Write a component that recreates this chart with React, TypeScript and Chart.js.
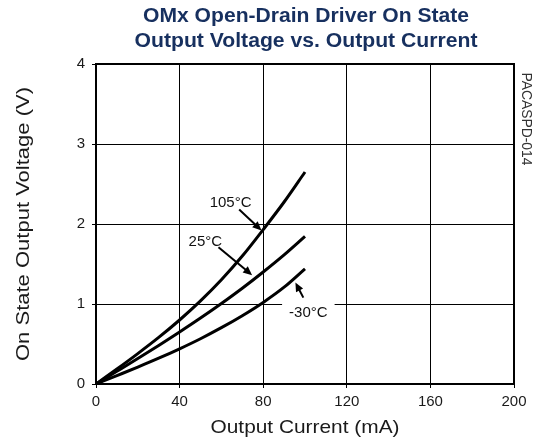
import React, { useEffect, useRef } from "react";
import { Chart, registerables } from "chart.js";

Chart.register(...registerables);

// ---- Data ----
const currentMA = [0, 10, 20, 30, 40, 50, 60, 70, 80, 90, 100];
const v105C = [0, 0.187, 0.38, 0.582, 0.8, 1.039, 1.303, 1.599, 1.93, 2.275, 2.65];
const v25C = [0, 0.159, 0.319, 0.482, 0.65, 0.824, 1.006, 1.197, 1.4, 1.614, 1.845];
const vMinus30C = [0, 0.105, 0.211, 0.322, 0.44, 0.566, 0.704, 0.854, 1.02, 1.21, 1.44];

const xTicks = [0, 40, 80, 120, 160, 200];
const yTicks = [0, 1, 2, 3, 4];

const titleLines = ["OMx Open-Drain Driver On State", "Output Voltage vs. Output Current"];
const xAxisTitle = "Output Current (mA)";
const yAxisTitle = "On State Output Voltage (V)";
const sideNote = "PACASPD-014";

// annotation labels (data coordinates)
const annoText = ["105°C", "25°C", "-30°C"];
const annoTextX = [64.4, 52.3, 101.6];
const annoTextY = [2.26, 1.78, 0.89];
const annoFromX = [68.5, 58.6, 99.2];
const annoFromY = [2.18, 1.71, 1.08];
const annoToX = [79.2, 74.7, 95.4];
const annoToY = [1.92, 1.36, 1.27];

const FONT = '"Liberation Sans", Arial, Helvetica, sans-serif';

function toPoints(ys: number[]) {
  return currentMA.map((x, i) => ({ x, y: ys[i] }));
}

function scaledText(
  ctx: CanvasRenderingContext2D,
  text: string,
  x: number,
  y: number,
  font: string,
  target: number | null,
  rot: number,
  color: string
) {
  ctx.save();
  ctx.translate(x, y);
  ctx.rotate(rot);
  ctx.font = font;
  const w = ctx.measureText(text).width;
  const s = target ? target / w : 1;
  ctx.scale(s, 1);
  ctx.fillStyle = color;
  ctx.textAlign = "center";
  ctx.textBaseline = "alphabetic";
  ctx.fillText(text, 0, 0);
  ctx.restore();
}

const overlay = {
  id: "overlay",
  afterDatasetsDraw(chart: any) {
    const ctx: CanvasRenderingContext2D = chart.ctx;
    const { left, right, top, bottom } = chart.chartArea;
    const xs = chart.scales.x;
    const ys = chart.scales.y;
    // frame
    ctx.save();
    ctx.strokeStyle = "#000";
    ctx.lineWidth = 2;
    ctx.strokeRect(left, top, right - left, bottom - top);
    ctx.restore();

    // annotations
    for (let i = 0; i < annoText.length; i++) {
      const tx = xs.getPixelForValue(annoTextX[i]);
      const ty = ys.getPixelForValue(annoTextY[i]);
      ctx.save();
      ctx.font = "15px " + FONT;
      const w = ctx.measureText(annoText[i]).width;
      if (annoText[i].startsWith("-")) {
        ctx.fillStyle = "#fff";
        ctx.fillRect(tx - w / 2 - 7, ty - 10, w + 14, 20);
      }
      ctx.fillStyle = "#111";
      ctx.textAlign = "center";
      ctx.textBaseline = "middle";
      ctx.fillText(annoText[i], tx, ty);
      ctx.restore();

      const x1 = xs.getPixelForValue(annoFromX[i]);
      const y1 = ys.getPixelForValue(annoFromY[i]);
      const x2 = xs.getPixelForValue(annoToX[i]);
      const y2 = ys.getPixelForValue(annoToY[i]);
      const ang = Math.atan2(y2 - y1, x2 - x1);
      const hl = 9;
      const hw = 4;
      ctx.save();
      ctx.strokeStyle = "#000";
      ctx.fillStyle = "#000";
      ctx.lineWidth = 2;
      ctx.beginPath();
      ctx.moveTo(x1, y1);
      ctx.lineTo(x2 - Math.cos(ang) * hl * 0.8, y2 - Math.sin(ang) * hl * 0.8);
      ctx.stroke();
      ctx.beginPath();
      ctx.moveTo(x2, y2);
      ctx.lineTo(
        x2 - Math.cos(ang) * hl - Math.sin(ang) * hw,
        y2 - Math.sin(ang) * hl + Math.cos(ang) * hw
      );
      ctx.lineTo(
        x2 - Math.cos(ang) * hl + Math.sin(ang) * hw,
        y2 - Math.sin(ang) * hl - Math.cos(ang) * hw
      );
      ctx.closePath();
      ctx.fill();
      ctx.restore();
    }
  },
  afterDraw(chart: any) {
    const ctx: CanvasRenderingContext2D = chart.ctx;
    const { left, right, top, bottom } = chart.chartArea;
    const cx = (left + right) / 2;
    const cy = (top + bottom) / 2;
    const navy = "#17305f";
    scaledText(ctx, titleLines[0], cx + 1, 22, "bold 20px " + FONT, 326, 0, navy);
    scaledText(ctx, titleLines[1], cx + 1, 47, "bold 20px " + FONT, 343, 0, navy);
    scaledText(ctx, xAxisTitle, cx, 433, "19px " + FONT, 189, 0, "#1a1a1a");
    scaledText(ctx, yAxisTitle, 28.5, cy, "19px " + FONT, 274, -Math.PI / 2, "#1a1a1a");
    scaledText(ctx, sideNote, right + 7.5, top + 55, "14px " + FONT, 93, Math.PI / 2, "#333");
  },
};

export default function App() {
  const ref = useRef<HTMLCanvasElement | null>(null);
  useEffect(() => {
    if (!ref.current) return;
    const lineStyle = {
      borderColor: "#000",
      borderWidth: 3,
      pointRadius: 0,
      fill: false,
      tension: 0.4,
      cubicInterpolationMode: "monotone" as const,
    };
    const chart = new Chart(ref.current, {
      type: "line",
      data: {
        datasets: [
          { label: "105°C", data: toPoints(v105C), ...lineStyle },
          { label: "25°C", data: toPoints(v25C), ...lineStyle },
          { label: "-30°C", data: toPoints(vMinus30C), ...lineStyle },
        ],
      },
      options: {
        responsive: false,
        animation: false,
        layout: { padding: { top: 64, right: 23, left: 0, bottom: 0 } },
        plugins: {
          legend: { display: false },
          title: { display: false },
          tooltip: { enabled: false },
        },
        scales: {
          x: {
            type: "linear",
            min: 0,
            max: 200,
            afterFit: (s: any) => {
              s.height = 60;
            },
            afterBuildTicks: (s: any) => {
              s.ticks = xTicks.map((v) => ({ value: v }));
            },
            grid: { color: "#000", lineWidth: 1, tickLength: 4, drawTicks: true },
            border: { color: "#000", width: 2 },
            ticks: {
              padding: 5,
              color: "#1a1a1a",
              font: { family: FONT, size: 15 },
              maxRotation: 0,
            },
          },
          y: {
            type: "linear",
            min: 0,
            max: 4,
            afterFit: (s: any) => {
              s.width = 96;
            },
            afterBuildTicks: (s: any) => {
              s.ticks = yTicks.map((v) => ({ value: v }));
            },
            grid: { color: "#000", lineWidth: 1, tickLength: 4, drawTicks: true },
            border: { color: "#000", width: 2 },
            ticks: {
              padding: 7,
              color: "#1a1a1a",
              font: { family: FONT, size: 15 },
            },
          },
        },
      },
      plugins: [overlay],
    });
    return () => chart.destroy();
  }, []);
  return (
    <div style={{ position: "absolute", left: 0, top: 0, width: 537, height: 444, background: "#fff" }}>
      <canvas ref={ref} width={537} height={444} />
    </div>
  );
}
